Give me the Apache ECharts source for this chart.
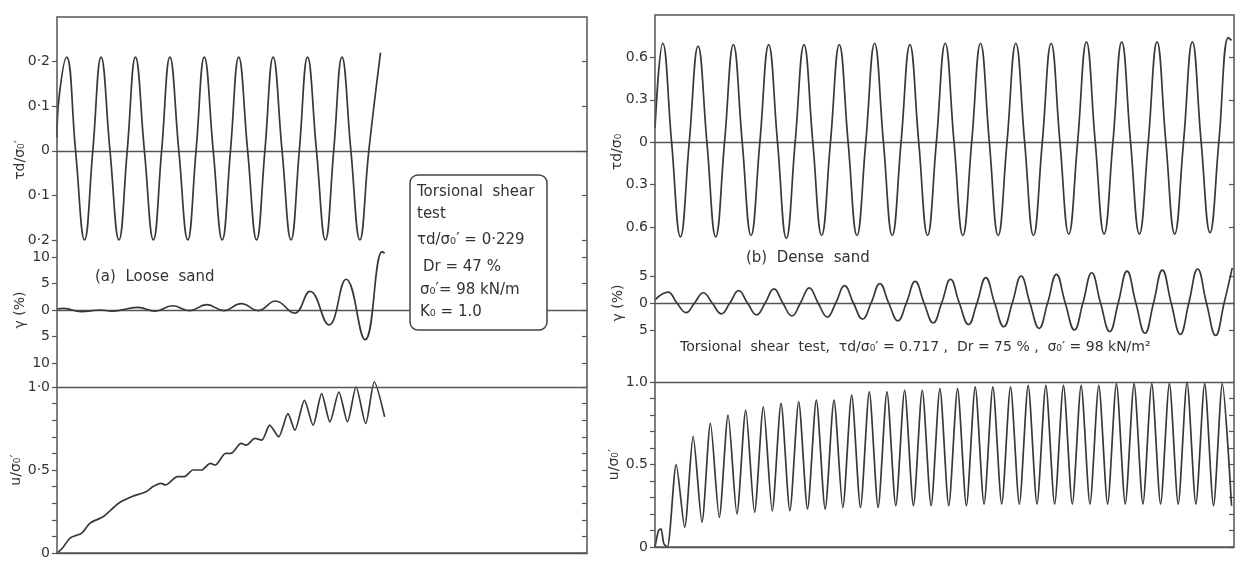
<!DOCTYPE html>
<html>
<head>
<meta charset="utf-8">
<script src="https://cdn.jsdelivr.net/npm/echarts@6/dist/echarts.min.js"></script>
<style>
html, body { margin: 0; padding: 0; background: #fff; }
#chart { width: 1238px; height: 563px; }
</style>
</head>
<body>
<div id="chart"></div>
<script>
// x = number of loading cycles
// (a) loose sand
var looseTau = [[0,0.03],[0.06,0.12],[0.28,0.21],[0.54,0],[0.8,-0.2],[1.04,0],[1.28,0.21],[1.54,0],[1.8,-0.2],[2.04,0],
  [2.28,0.21],[2.54,0],[2.8,-0.2],[3.04,0],[3.28,0.21],[3.54,0],[3.8,-0.2],[4.04,0],[4.28,0.21],[4.54,0],[4.8,-0.2],
  [5.04,0],[5.28,0.21],[5.54,0],[5.8,-0.2],[6.04,0],[6.28,0.21],[6.54,0],[6.8,-0.2],[7.04,0],[7.28,0.21],[7.54,0],
  [7.8,-0.2],[8.04,0],[8.28,0.21],[8.54,0],[8.8,-0.2],[9.06,0],[9.4,0.22]];
var looseGamma = [[0,0.2],[0.2,0.3],[0.7,-0.3],[1.25,0.0],[1.6,-0.2],[2.35,0.5],[2.85,-0.2],[3.35,0.8],[3.85,-0.1],
  [4.35,1.0],[4.85,-0.1],[5.35,1.2],[5.85,-0.1],[6.35,1.7],[6.9,-0.6],[7.35,3.5],[7.9,-2.8],[8.4,5.8],[8.95,-5.6],
  [9.45,11.0],[9.52,10.7]];
var looseU = [[0,0],[0.16,0.03],[0.38,0.09],[0.72,0.12],[0.96,0.18],[1.35,0.22],[1.79,0.3],[2.18,0.34],[2.6,0.37],
  [2.79,0.4],[3.02,0.42],[3.15,0.41],[3.5,0.46],[3.7,0.46],[3.95,0.5],[4.2,0.5],[4.45,0.54],[4.6,0.53],[4.9,0.6],
  [5.05,0.6],[5.35,0.66],[5.5,0.65],[5.75,0.69],[5.95,0.68],[6.18,0.77],[6.44,0.7],[6.71,0.84],[6.91,0.74],
  [7.19,0.92],[7.44,0.77],[7.69,0.96],[7.93,0.79],[8.19,0.97],[8.44,0.79],[8.69,1.0],[8.97,0.78],[9.22,1.03],[9.52,0.82]];

// (b) dense sand
var denseTau = [[0,0.1],[0.22,0.7],[0.47,0],[0.72,-0.67],[0.97,0],[1.22,0.68],[1.47,0],[1.72,-0.67],[1.97,0],
  [2.22,0.69],[2.47,0],[2.72,-0.66],[2.97,0],[3.22,0.69],[3.47,0],[3.72,-0.68],[3.97,0],[4.22,0.69],[4.47,0],
  [4.72,-0.66],[4.97,0],[5.22,0.69],[5.47,0],[5.72,-0.66],[5.97,0],[6.22,0.7],[6.47,0],[6.72,-0.66],[6.97,0],
  [7.22,0.69],[7.47,0],[7.72,-0.66],[7.97,0],[8.22,0.7],[8.47,0],[8.72,-0.66],[8.97,0],[9.22,0.7],[9.47,0],
  [9.72,-0.66],[9.97,0],[10.22,0.7],[10.47,0],[10.72,-0.66],[10.97,0],[11.22,0.7],[11.47,0],[11.72,-0.65],[11.97,0],
  [12.22,0.71],[12.47,0],[12.72,-0.65],[12.97,0],[13.22,0.71],[13.47,0],[13.72,-0.65],[13.97,0],[14.22,0.71],
  [14.47,0],[14.72,-0.65],[14.97,0],[15.22,0.71],[15.47,0],[15.72,-0.64],[15.97,0],[16.24,0.74],[16.33,0.72]];
var denseGamma = [[0,0.6],[0.37,2.0],[0.62,0],[0.88,-1.8],[1.12,0],[1.37,1.9],[1.62,0],[1.88,-2.0],[2.12,0],
  [2.37,2.3],[2.62,0],[2.88,-2.2],[3.12,0],[3.37,2.6],[3.62,0],[3.88,-2.4],[4.12,0],[4.37,2.8],[4.62,0],[4.88,-2.6],
  [5.12,0],[5.37,3.2],[5.62,0],[5.88,-3.0],[6.12,0],[6.37,3.6],[6.62,0],[6.88,-3.3],[7.12,0],[7.37,4.0],[7.62,0],
  [7.88,-3.7],[8.12,0],[8.37,4.4],[8.62,0],[8.88,-4.0],[9.12,0],[9.37,4.7],[9.62,0],[9.88,-4.4],[10.12,0],[10.37,5.0],
  [10.62,0],[10.88,-4.7],[11.12,0],[11.37,5.3],[11.62,0],[11.88,-5.0],[12.12,0],[12.37,5.6],[12.62,0],[12.88,-5.3],
  [13.12,0],[13.37,5.9],[13.62,0],[13.88,-5.6],[14.12,0],[14.37,6.1],[14.62,0],[14.88,-5.8],[15.12,0],[15.37,6.3],
  [15.62,0],[15.88,-6.0],[16.12,0],[16.35,6.5]];
var denseU = [[0,0],[0.1,0.1],[0.17,0.11],[0.25,0.02],[0.35,0],[0.6,0.5],[0.84,0.12],[1.08,0.67],[1.33,0.15],
  [1.57,0.75],[1.82,0.18],[2.07,0.8],[2.32,0.2],[2.57,0.83],[2.82,0.21],[3.07,0.85],[3.32,0.22],[3.57,0.87],
  [3.82,0.22],[4.07,0.88],[4.32,0.23],[4.57,0.89],[4.82,0.23],[5.07,0.89],[5.32,0.24],[5.57,0.92],[5.82,0.24],
  [6.07,0.94],[6.32,0.24],[6.57,0.94],[6.82,0.25],[7.07,0.95],[7.32,0.25],[7.57,0.95],[7.82,0.25],[8.07,0.96],
  [8.32,0.25],[8.57,0.96],[8.82,0.25],[9.07,0.97],[9.32,0.26],[9.57,0.97],[9.82,0.26],[10.07,0.97],[10.32,0.26],
  [10.57,0.98],[10.82,0.26],[11.07,0.98],[11.32,0.26],[11.57,0.98],[11.82,0.26],[12.07,0.98],[12.32,0.26],
  [12.57,0.98],[12.82,0.26],[13.07,0.99],[13.32,0.26],[13.57,0.99],[13.82,0.26],[14.07,0.99],[14.32,0.26],
  [14.57,0.99],[14.82,0.26],[15.07,1.0],[15.32,0.26],[15.57,0.99],[15.82,0.25],[16.07,0.99],[16.33,0.25]];

// tick values
var looseTauTicks = [-0.2, -0.1, 0, 0.1, 0.2];
var looseGammaTicks = [-10, -5, 0, 5, 10];
var denseTauTicks = [-0.6, -0.3, 0, 0.3, 0.6];
var denseGammaTicks = [-5, 0, 5];
var uTicks = [0, 0.1, 0.2, 0.3, 0.4, 0.5, 0.6, 0.7, 0.8, 0.9, 1.0];
var uLabels = [0, 0.5, 1.0];

var INK = '#383838', FRAME = '#555';
var FONT = 'DejaVu Sans';

function decFmt(sep) {
  return function (v) {
    if (v === 0) return '0';
    return Math.abs(v).toFixed(1).replace('.', sep);
  };
}
function intFmt(v) { return String(Math.abs(v)); }

var grids = [
  {left: 57, width: 530, top: 17, height: 223},
  {left: 57, width: 530, top: 257, height: 106},
  {left: 57, width: 530, top: 387, height: 166},
  {left: 655, width: 579, top: 15, height: 212},
  {left: 655, width: 579, top: 276, height: 54},
  {left: 655, width: 579, top: 382, height: 165}
];

var xAxes = [], yAxes = [];
function addX(g, max) {
  xAxes.push({
    type: 'value', gridIndex: g, min: 0, max: max,
    axisLabel: {show: false}, axisTick: {show: false}, splitLine: {show: false},
    axisLine: {show: true, onZero: true, lineStyle: {color: FRAME, width: 1.3}}
  });
}
function addY(g, min, max, ticks, labels, fmt, name) {
  yAxes.push({
    type: 'value', gridIndex: g, min: min, max: max, position: 'left',
    name: name || '', nameLocation: 'middle', nameGap: 30,
    nameTextStyle: {fontFamily: FONT, fontSize: 14, color: '#333'},
    axisLine: {show: false},
    axisTick: {show: true, inside: false, length: 5, customValues: ticks, lineStyle: {color: FRAME, width: 1.2}},
    axisLabel: {show: true, customValues: labels, formatter: fmt, margin: 7,
      fontFamily: FONT, fontSize: 14, color: '#333'},
    splitLine: {show: false}
  });
  // mirrored ticks on the right border
  yAxes.push({
    type: 'value', gridIndex: g, min: min, max: max, position: 'right',
    axisLine: {show: false},
    axisTick: {show: true, inside: true, length: 5, customValues: ticks, lineStyle: {color: FRAME, width: 1.2}},
    axisLabel: {show: false}, splitLine: {show: false}
  });
}

addX(0, 15.4); addX(1, 15.4); addX(2, 15.4);
addX(3, 16.4); addX(4, 16.4); addX(5, 16.4);

addY(0, -0.2, 0.3, looseTauTicks, looseTauTicks, decFmt('·'));
addY(1, -10, 10, looseGammaTicks, looseGammaTicks, intFmt, 'γ (%)');
addY(2, 0, 1, uTicks, uLabels, decFmt('·'), 'u/σ₀′');
addY(3, -0.6, 0.9, denseTauTicks, denseTauTicks, decFmt('.'));
addY(4, -5, 5, denseGammaTicks, denseGammaTicks, intFmt, 'γ (%)');
addY(5, 0, 1, uTicks, uLabels, decFmt('.'), 'u/σ₀′');

function trace(data, g, withTop) {
  var s = {
    type: 'line', data: data, xAxisIndex: g, yAxisIndex: g * 2,
    showSymbol: false, smooth: 0.45, clip: false, silent: true,
    lineStyle: {color: INK, width: 1.7}
  };
  if (withTop) {
    s.smooth = 0.25;
    s.markLine = {
      silent: true, symbol: ['none', 'none'], label: {show: false},
      lineStyle: {color: FRAME, width: 1.3, type: 'solid'},
      data: [{yAxis: 1}]
    };
  }
  return s;
}

var series = [
  trace(looseTau, 0), trace(looseGamma, 1), trace(looseU, 2, true),
  trace(denseTau, 3), trace(denseGamma, 4), trace(denseU, 5, true)
];

function txt(x, y, s, size, extra) {
  var o = {type: 'text', x: x, y: y, z: 110,
    style: {text: s, fontFamily: FONT, fontSize: size || 15, fill: '#333',
      align: 'left', verticalAlign: 'middle'}};
  if (extra) for (var k in extra) o[k] = extra[k];
  return o;
}

var graphic = [
  {type: 'rect', z: 90, shape: {x: 57, y: 17, width: 530, height: 536},
    style: {fill: 'none', stroke: FRAME, lineWidth: 1.5}},
  {type: 'rect', z: 90, shape: {x: 655, y: 15, width: 579, height: 532},
    style: {fill: 'none', stroke: FRAME, lineWidth: 1.5}},
  {type: 'rect', z: 100, shape: {x: 410, y: 175, width: 137, height: 155, r: 8},
    style: {fill: '#fff', stroke: '#444', lineWidth: 1.5}},
  txt(417, 192, 'Torsional  shear'),
  txt(417, 214, 'test'),
  txt(417, 240, 'τd/σ₀′ = 0·229'),
  txt(423, 267, 'Dr = 47 %'),
  txt(420, 290, 'σ₀′= 98 kN/m'),
  txt(420, 312, 'K₀ = 1.0'),
  txt(95, 277, '(a)  Loose  sand'),
  txt(746, 258, '(b)  Dense  sand'),
  txt(680, 347, 'Torsional  shear  test,  τd/σ₀′ = 0.717 ,  Dr = 75 % ,  σ₀′ = 98 kN/m²', 14),
  txt(20, 160, 'τd/σ₀′', 14, {rotation: Math.PI / 2}),
  txt(617, 152, 'τd/σ₀', 14, {rotation: Math.PI / 2})
];
graphic[graphic.length - 1].style.align = 'center';
graphic[graphic.length - 2].style.align = 'center';

var chart = echarts.init(document.getElementById('chart'), null, {renderer: 'canvas'});
chart.setOption({
  animation: false,
  backgroundColor: '#fff',
  grid: grids,
  xAxis: xAxes,
  yAxis: yAxes,
  series: series,
  graphic: graphic
});
</script>
</body>
</html>
